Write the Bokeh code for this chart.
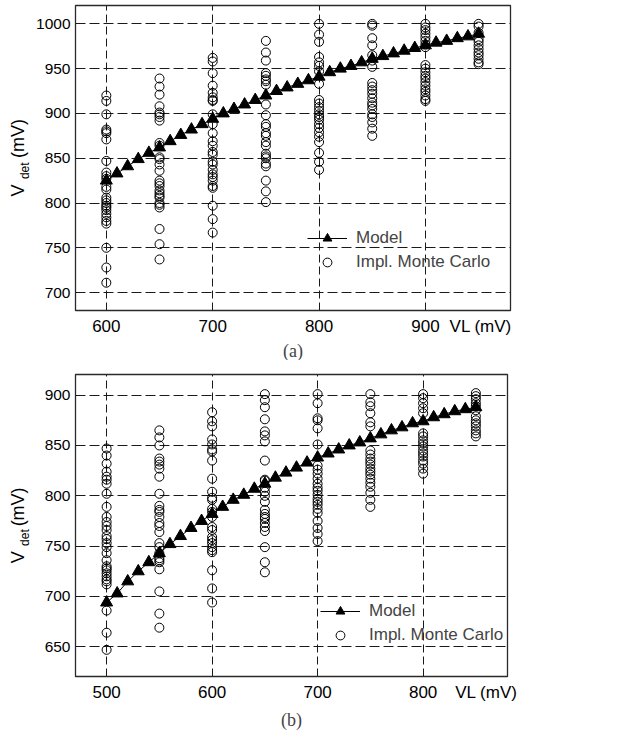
import math
from bokeh.plotting import figure
from bokeh.layouts import column, row
from bokeh.models import FixedTicker, Legend, LegendItem, Range1d
from bokeh.core.properties import value
from bokeh.embed import file_html
from bokeh.resources import INLINE

# ---------------- (a) ----------------
a_model_vl = [600, 610, 620, 630, 640, 650, 660, 670, 680, 690, 700, 710, 720, 730, 740, 750,
              760, 770, 780, 790, 800, 810, 820, 830, 840, 850, 860, 870, 880, 890, 900, 910,
              920, 930, 940, 950]
a_model_vdet = [825, 833, 841, 849, 856, 862, 869, 876, 882, 888, 894, 900, 905, 910, 915, 920,
                925, 929, 933, 937, 941, 946, 950, 953, 957, 961, 964, 967, 970, 973, 976, 979,
                981, 984, 986, 989]
a_mc_600 = [920, 914, 899, 882, 880, 878, 871, 847, 834, 830, 827, 818, 815, 806, 803, 800, 797, 795,
            792, 788, 784, 780, 777, 750, 728, 711]
a_mc_650 = [939, 930, 921, 908, 901, 899, 896, 892, 867, 864, 851, 849, 843, 836, 825, 822, 819, 814,
            811, 808, 806, 800, 798, 795, 771, 754, 737]
a_mc_700 = [962, 958, 945, 931, 923, 918, 915, 914, 899, 888, 878, 869, 864, 857, 854, 846, 843, 837,
            832, 829, 825, 819, 817, 797, 782, 767]
a_mc_750 = [981, 968, 959, 945, 942, 938, 936, 932, 910, 898, 888, 885, 878, 875, 868, 864, 855, 852,
            850, 844, 841, 825, 813, 801]
a_mc_800 = [1000, 988, 980, 963, 957, 953, 947, 933, 915, 911, 907, 903, 899, 896, 893, 888, 884, 879,
            874, 868, 856, 846, 837]
a_mc_850 = [1000, 998, 984, 976, 965, 959, 952, 934, 930, 926, 922, 917, 912, 909, 905, 899, 896, 890,
            883, 875]
a_mc_900 = [1000, 996, 993, 989, 985, 981, 977, 974, 954, 950, 946, 942, 939, 935, 931, 927, 924, 920,
            916, 914]
a_mc_950 = [1000, 997, 990, 983, 980, 976, 972, 968, 965, 961, 957, 955]
a_mc = {600: a_mc_600, 650: a_mc_650, 700: a_mc_700, 750: a_mc_750,
        800: a_mc_800, 850: a_mc_850, 900: a_mc_900, 950: a_mc_950}
a_xticks = [600, 700, 800, 900]
a_yticks = [700, 750, 800, 850, 900, 950, 1000]
a_vl_label_at = 952

# ---------------- (b) ----------------
b_model_vl = [500, 510, 520, 530, 540, 550, 560, 570, 580, 590, 600, 610, 620, 630, 640, 650,
              660, 670, 680, 690, 700, 710, 720, 730, 740, 750, 760, 770, 780, 790, 800, 810,
              820, 830, 840, 850]
b_model_vdet = [694, 703, 715, 725, 734, 743, 752, 760, 768, 775, 782, 789, 796, 801, 807, 812,
                818, 823, 828, 833, 838, 842, 846, 850, 853, 857, 861, 865, 868, 872, 874, 878,
                881, 884, 886, 888]
b_mc_500 = [847, 840, 832, 824, 819, 816, 812, 802, 789, 779, 774, 770, 766, 760, 757, 753, 749, 743,
            736, 730, 728, 726, 723, 720, 717, 715, 712, 686, 664, 647]
b_mc_550 = [865, 858, 850, 837, 834, 831, 827, 819, 802, 790, 786, 784, 779, 773, 770, 764, 753, 749,
            743, 738, 736, 734, 727, 705, 683, 669]
b_mc_600 = [883, 874, 869, 856, 851, 846, 844, 835, 817, 804, 798, 796, 787, 784, 779, 769, 766, 759,
            756, 753, 749, 746, 744, 726, 708, 694]
b_mc_650 = [901, 895, 888, 876, 864, 860, 854, 835, 816, 815, 808, 804, 800, 794, 786, 782, 779, 777,
            773, 769, 765, 749, 734, 724]
b_mc_700 = [901, 892, 877, 875, 867, 851, 830, 826, 822, 817, 812, 808, 805, 801, 797, 794, 791, 787,
            783, 775, 768, 762, 755]
b_mc_750 = [901, 893, 889, 882, 873, 869, 845, 841, 837, 834, 831, 827, 824, 821, 817, 813, 809, 803,
            796, 789]
b_mc_800 = [901, 897, 892, 887, 882, 862, 859, 855, 852, 849, 845, 842, 839, 835, 832, 827, 822]
b_mc_850 = [902, 899, 896, 892, 889, 885, 879, 875, 872, 869, 865, 862, 859]
b_mc = {500: b_mc_500, 550: b_mc_550, 600: b_mc_600, 650: b_mc_650,
        700: b_mc_700, 750: b_mc_750, 800: b_mc_800, 850: b_mc_850}
b_xticks = [500, 600, 700, 800]
b_yticks = [650, 700, 750, 800, 850, 900]
b_vl_label_at = 860

FONT = "Liberation Sans"
LABEL_W = 31


def make_ylabel(height, y_range, pos):
    """Narrow strip (sharing the panel's y range) holding the rotated title V_det (mV)."""
    (v_x, v_y), (d_x, d_y), (m_x, m_y) = pos
    q = figure(width=LABEL_W, height=height, output_backend="svg", toolbar_location=None,
               x_range=Range1d(0, LABEL_W), y_range=y_range,
               x_axis_type=None, y_axis_type=None, title=None)
    q.min_border = 0
    q.min_border_left = 0
    q.min_border_right = 0
    q.outline_line_color = None
    q.grid.visible = False
    q.background_fill_color = "white"
    q.border_fill_color = "white"
    for (tx, ty), txt, fs in (((v_x, v_y), "V", "18px"), ((d_x, d_y), "det", "12px"),
                              ((m_x, m_y), "(mV)", "18px")):
        q.text(x=[tx], y=[ty], text=[txt], angle=math.pi / 2, text_align="center",
               text_baseline="middle", text_font=value(FONT), text_font_size=fs,
               text_color="black")
    return q


def make_panel(caption, model_x, model_y, mc, xticks, yticks, vl_at, xr, yr,
               height, borders, legend_loc, title_standoff):
    p = figure(width=621 - LABEL_W, height=height, output_backend="svg", toolbar_location=None,
               x_range=Range1d(*xr), y_range=Range1d(*yr))
    p.min_border_top, p.min_border_right, p.min_border_bottom, p.min_border_left = borders
    p.background_fill_color = "white"
    p.border_fill_color = "white"
    p.outline_line_color = "#2a2a2a"
    p.outline_line_width = 1.3

    # axes
    p.xaxis.ticker = FixedTicker(ticks=xticks + [vl_at])
    p.xaxis.major_label_overrides = {vl_at: "VL (mV)"}
    p.yaxis.ticker = FixedTicker(ticks=yticks)
    for ax in (p.xaxis, p.yaxis):
        ax.major_tick_in = 0
        ax.major_tick_out = 0
        ax.minor_tick_in = 0
        ax.minor_tick_out = 0
        ax.axis_line_color = "#2a2a2a"
        ax.major_label_text_font = FONT
        ax.major_label_text_color = "black"
    p.xaxis.major_label_text_font_size = "17px"
    p.yaxis.major_label_text_font_size = "15.5px"
    p.xaxis.major_label_standoff = 6
    p.yaxis.major_label_standoff = 5

    # grid
    p.xgrid.ticker = FixedTicker(ticks=xticks)
    p.ygrid.ticker = FixedTicker(ticks=yticks)
    p.xgrid.grid_line_color = "#1a1a1a"
    p.xgrid.grid_line_dash = "8 4"
    p.xgrid.grid_line_width = 1
    p.ygrid.grid_line_color = "#1a1a1a"
    p.ygrid.grid_line_dash = "10 4"
    p.ygrid.grid_line_width = 1

    # data
    mx, my = [], []
    for k, vals in mc.items():
        mx += [k] * len(vals)
        my += vals
    r_mc = p.scatter(mx, my, marker="circle", size=9, fill_color=None,
                     line_color="black", line_width=1)
    r_line = p.line(model_x, model_y, line_color="black", line_width=1)
    r_tri = p.scatter(model_x, model_y, marker="triangle", size=12,
                      fill_color="black", line_color="black")

    legend = Legend(items=[LegendItem(label="Model", renderers=[r_line, r_tri]),
                           LegendItem(label="Impl. Monte Carlo", renderers=[r_mc])],
                    location=legend_loc)
    legend.background_fill_alpha = 0
    legend.border_line_color = None
    legend.padding = 0
    legend.margin = 0
    legend.spacing = 2
    legend.glyph_width = 40
    legend.glyph_height = 22
    legend.label_height = 22
    legend.label_standoff = 9
    legend.label_text_font = FONT
    legend.label_text_font_size = "17px"
    p.add_layout(legend)

    # caption
    p.title.text = caption
    p.title_location = "below"
    p.title.align = "center"
    p.title.text_font = "Liberation Serif"
    p.title.text_font_style = "normal"
    p.title.text_font_size = "18px"
    p.title.standoff = title_standoff
    return p


pa = make_panel("(a)", a_model_vl, a_model_vdet, a_mc, a_xticks, a_yticks, a_vl_label_at,
                (571, 980), (680, 1020.5), 360, (5, 111, 50, 75 - LABEL_W), (232, 37), 0)
la = make_ylabel(360, pa.y_range, ((17, 814), (24, 836), (17, 872)))
pb = make_panel("(b)", b_model_vl, b_model_vdet, b_mc, b_xticks, b_yticks, b_vl_label_at,
                (470.5, 880), (620.5, 920.5), 372, (14, 114, 55, 75 - LABEL_W), (245, 30), 6)
lb = make_ylabel(372, pb.y_range, ((17, 739), (24, 758.5), (17, 789)))

layout = column(row(la, pa, spacing=0), row(lb, pb, spacing=0), spacing=0)
open("out.html", "w").write(file_html(layout, INLINE))
